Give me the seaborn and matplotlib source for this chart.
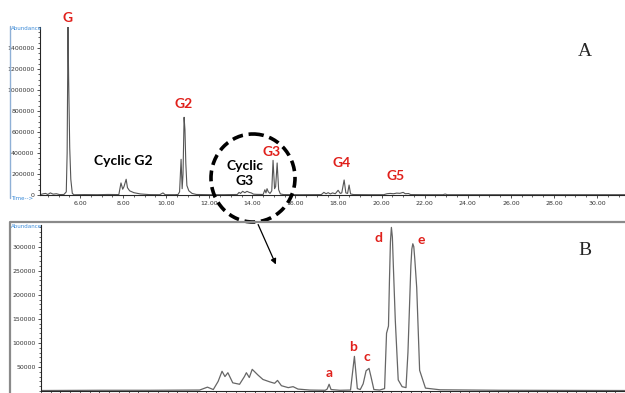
import numpy as np
import pandas as pd
import seaborn as sns
import matplotlib.pyplot as plt
from matplotlib.patches import Ellipse
from matplotlib.ticker import MultipleLocator, FormatStrFormatter

# ---- panel A: full chromatogram (time in min, abundance) ----
time_a = [4.14, 4.30, 4.40, 4.50, 4.62, 4.75, 4.90, 5.05, 5.25, 5.36, 5.40, 5.44, 5.47, 5.52, 5.57, 5.64, 5.72,
          6.20, 6.80, 7.30, 7.80, 7.90, 7.98, 8.04, 8.14, 8.20, 8.30, 8.50, 8.80, 9.20, 9.70, 9.85, 9.95,
          10.40, 10.55, 10.62, 10.69, 10.74, 10.78, 10.83, 10.87, 10.91, 10.96, 11.05, 11.20, 11.40, 12.00, 12.70,
          13.30, 13.38, 13.45, 13.55, 13.65, 13.75, 13.85, 13.95, 14.05, 14.20, 14.50, 14.58, 14.63, 14.68, 14.74,
          14.82, 14.90, 14.96, 15.03, 15.08, 15.15, 15.22, 15.30, 15.45, 16.20, 17.20, 17.32, 17.42, 17.52, 17.62,
          17.72, 17.85, 17.98, 18.08, 18.15, 18.26, 18.34, 18.42, 18.49, 18.56, 18.70, 19.40, 20.10, 20.25, 20.40,
          20.55, 20.70, 20.85, 21.00, 21.10, 21.25, 21.35, 22.00, 22.85, 22.95, 23.05, 24.00, 26.00, 28.00, 31.30]
abund_a = [3000, 12000, 15000, 5000, 20000, 8000, 12000, 4000, 5000, 30000, 400000, 1600000, 1100000, 450000, 150000, 15000, 2000,
           4000, 3000, 5000, 4000, 115000, 55000, 80000, 150000, 70000, 40000, 22000, 10000, 4000, 3000, 20000, 3000,
           3000, 5000, 30000, 340000, 60000, 200000, 740000, 620000, 300000, 90000, 40000, 15000, 5000, 3000, 3000,
           5000, 25000, 15000, 35000, 22000, 35000, 25000, 20000, 8000, 6000, 5000, 50000, 20000, 60000, 30000,
           15000, 40000, 330000, 60000, 80000, 305000, 50000, 10000, 4000, 3000, 4000, 25000, 12000, 22000, 10000,
           20000, 12000, 45000, 15000, 20000, 143000, 20000, 15000, 95000, 10000, 4000, 3000, 3000, 12000, 15000,
           12000, 18000, 16000, 25000, 12000, 14000, 4000, 3000, 3000, 9000, 3000, 3000, 3000, 3000, 3000]

# ---- panel B: zoomed chromatogram ----
time_b = [11.00, 11.61, 12.12, 12.63, 12.71, 12.77, 12.82, 12.86, 12.89, 12.92, 12.97, 13.04, 13.09, 13.11,
          13.14, 13.17, 13.23, 13.28, 13.35, 13.40, 13.43, 13.47, 13.54, 13.59, 13.64, 13.76, 13.92, 13.94,
          13.96, 13.98, 14.07, 14.18, 14.22, 14.25, 14.28, 14.31, 14.34, 14.37, 14.39, 14.42, 14.48, 14.53,
          14.55, 14.57, 14.58, 14.59, 14.60, 14.61, 14.62, 14.64, 14.67, 14.71, 14.75, 14.77, 14.79, 14.80,
          14.81, 14.82, 14.83, 14.84, 14.86, 14.89, 14.95, 15.10, 15.72, 17.00]
abund_b = [1000, 1500, 1500, 2000, 8000, 3000, 20000, 41000, 30000, 38000, 17000, 14000, 30000, 38000,
           28000, 45000, 33000, 24000, 19000, 16000, 22000, 11000, 7000, 9000, 4000, 2000, 1500, 4000,
           14000, 3000, 1500, 2000, 72000, 5000, 3000, 15000, 42000, 47000, 30000, 3000, 2000, 5000,
           120000, 135000, 230000, 310000, 340000, 320000, 260000, 147000, 23000, 9000, 7000, 80000, 200000, 260000,
           295000, 306000, 300000, 275000, 215000, 43000, 6000, 2500, 1500, 1000]

yticks_a = [0, 200000, 400000, 600000, 800000, 1000000, 1200000, 1400000]
xticks_a = [6, 8, 10, 12, 14, 16, 18, 20, 22, 24, 26, 28, 30]
yticks_b = [50000, 100000, 150000, 200000, 250000, 300000]

labels_a = [("G", 5.44, 1690000, "red"), ("G2", 10.80, 870000, "red"),
            ("Cyclic G2", 8.0, 325000, "k"), ("Cyclic\nG3", 13.66, 205000, "k"),
            ("G3", 14.91, 410000, "red"), ("G4", 18.16, 305000, "red"), ("G5", 20.67, 181000, "red")]
labels_b = [("a", 13.96, 37000, "red"), ("b", 14.21, 91000, "red"), ("c", 14.35, 71000, "red"),
            ("d", 14.47, 318000, "red"), ("e", 14.91, 314000, "red")]

red = "#e0201b"
trace = "#555555"
blue = "#3a8ad8"

sns.set_style("ticks")
fig = plt.figure(figsize=(6.25, 3.93), dpi=100)
ax_a = fig.add_axes([40/625, 1-195/393, 585/625, 168/393])
ax_b = fig.add_axes([41/625, 1-391/393, 584/625, 166/393])

dfa = pd.DataFrame({"time": time_a, "abundance": abund_a})
dfb = pd.DataFrame({"time": time_b, "abundance": abund_b})
sns.lineplot(data=dfa, x="time", y="abundance", ax=ax_a, color=trace, lw=0.8, estimator=None, sort=False)
sns.lineplot(data=dfb, x="time", y="abundance", ax=ax_b, color="#666666", lw=0.9, estimator=None, sort=False)

for ax in (ax_a, ax_b):
    ax.set_xlabel("")
    ax.set_ylabel("")
    for s in ("top", "right"):
        ax.spines[s].set_visible(False)
    ax.spines["left"].set_linewidth(0.8)
    ax.spines["bottom"].set_linewidth(0.8)
    ax.tick_params(which="major", length=2.5, width=0.6, labelsize=4.5, colors="#333333", pad=1.5)
    ax.tick_params(which="minor", length=1.5, width=0.5)

ax_a.set_xlim(4.14, 31.30)
ax_a.set_ylim(0, 1600000)
ax_a.set_yticks(yticks_a)
ax_a.set_yticklabels([str(v) for v in yticks_a])
ax_a.set_xticks(xticks_a)
ax_a.xaxis.set_major_formatter(FormatStrFormatter("%.2f"))
ax_a.xaxis.set_minor_locator(MultipleLocator(0.5))
ax_a.yaxis.set_minor_locator(MultipleLocator(50000))

ax_b.set_xlim(11.0, 17.0)
ax_b.set_ylim(0, 345000)
ax_b.set_yticks(yticks_b)
ax_b.set_yticklabels([str(v) for v in yticks_b])
ax_b.xaxis.set_major_locator(MultipleLocator(0.4))
ax_b.xaxis.set_minor_locator(MultipleLocator(0.1))
ax_b.set_xticklabels([])
ax_b.yaxis.set_minor_locator(MultipleLocator(10000))

for txt, x, y, c in labels_a:
    ax_a.text(x, y, txt, color=red if c == "red" else "black", fontsize=10, fontweight="bold",
              family="Lato", ha="center", va="center", linespacing=1.3, clip_on=False)
for txt, x, y, c in labels_b:
    ax_b.text(x, y, txt, color=red, fontsize=10, fontweight="bold",
              family="Lato", ha="center", va="center", clip_on=False)

ax_a.text(29.44, 1362000, "A", fontsize=14, family="Liberation Serif", ha="center", va="center")
ax_b.text(16.59, 293000, "B", fontsize=14, family="Liberation Serif", ha="center", va="center")

# overlay in pixel coordinates: screenshot frames, circle and arrow
ov = fig.add_axes([0, 0, 1, 1], facecolor="none")
ov.set_xlim(0, 625)
ov.set_ylim(393, 0)
ov.axis("off")
ov.plot([10, 10], [26, 198], color="#8fb0d6", lw=1.0)
ov.plot([10, 10, 625], [393, 222, 222], color="#8a8a8a", lw=1.6)
ov.text(11, 29, "Abundance", color=blue, fontsize=4, va="center", ha="left")
ov.text(11, 199, "Time-->", color=blue, fontsize=4, va="center", ha="left")
ov.text(11, 227, "Abundance", color=blue, fontsize=4, va="center", ha="left")
ov.add_patch(Ellipse((253, 178), 84, 88, fill=False, ec="black", lw=2.6, ls=(0, (3, 1.6))))
ov.annotate("", xy=(277, 267), xytext=(257, 222),
            arrowprops=dict(arrowstyle="-|>", color="black", lw=0.9, mutation_scale=8))

fig.savefig("out.png", dpi=100)
